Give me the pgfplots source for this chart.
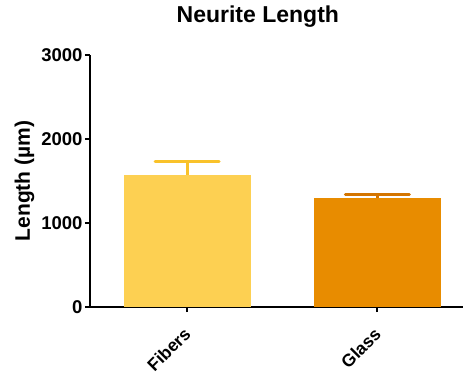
\documentclass[border=0pt]{standalone}
\usepackage{fontspec}
\setmainfont{Liberation Sans}
\usepackage{pgfplots}
\pgfplotsset{compat=1.18}
\definecolor{fibfill}{HTML}{FDD052}
\definecolor{fiberr}{HTML}{F9C22A}
\definecolor{glafill}{HTML}{E88C00}
\definecolor{glaerr}{HTML}{D47500}
\begin{document}
\begin{tikzpicture}
% fixed page frame around the axis box (axis box: 373pt x 252pt at the origin)
\path[use as bounding box] (-90pt,-68pt) rectangle (378pt,307pt);
\begin{axis}[
  at={(0,0)}, anchor=south west,
  scale only axis,
  width=373pt, height=252pt,
  xmin=-0.51, xmax=1.45,
  ymin=0, ymax=3000,
  axis lines*=left,
  axis line style={line width=1.8pt, -},
  xtick={0,1}, xticklabels={Fibers,Glass},
  ytick={0,1000,2000,3000},
  tick style={line width=1.8pt, black},
  major tick length=5pt,
  tick align=outside,
  xticklabel style={rotate=45, anchor=north east, inner sep=0pt, font=\bfseries\fontsize{17.5}{19}\selectfont, yshift=-7pt, xshift=-13pt},
  yticklabel style={font=\bfseries\fontsize{18.5}{20}\selectfont, xshift=1pt},
  /pgf/number format/assume math mode=true,
  scaled y ticks=false,
  yticklabel={\pgfmathprintnumber[fixed,1000 sep={}]{\tick}},
  ylabel={\bfseries Length (µm)},
  ylabel style={font=\bfseries\fontsize{21}{23}\selectfont, yshift=0pt},
  title={\bfseries Neurite Length},
  title style={font=\bfseries\fontsize{23}{25}\selectfont, at={(axis description cs:0.45,1)}, yshift=18pt},
  ybar, bar width=127pt, bar shift=0pt,
  error bars/y dir=plus, error bars/y explicit,
  clip=false,
]
\addplot[fill=fibfill, draw=none,
  error bars/error bar style={line width=3pt, fiberr},
  error bars/error mark options={rotate=90, mark size=32pt, line width=3pt, fiberr, line cap=round}]
  coordinates {(0,1575) +- (0,155)};
\addplot[fill=glafill, draw=none,
  error bars/error bar style={line width=3pt, glaerr},
  error bars/error mark options={rotate=90, mark size=32pt, line width=3pt, glaerr, line cap=round}]
  coordinates {(1,1298) +- (0,44)};
\end{axis}
\end{tikzpicture}
\end{document}
